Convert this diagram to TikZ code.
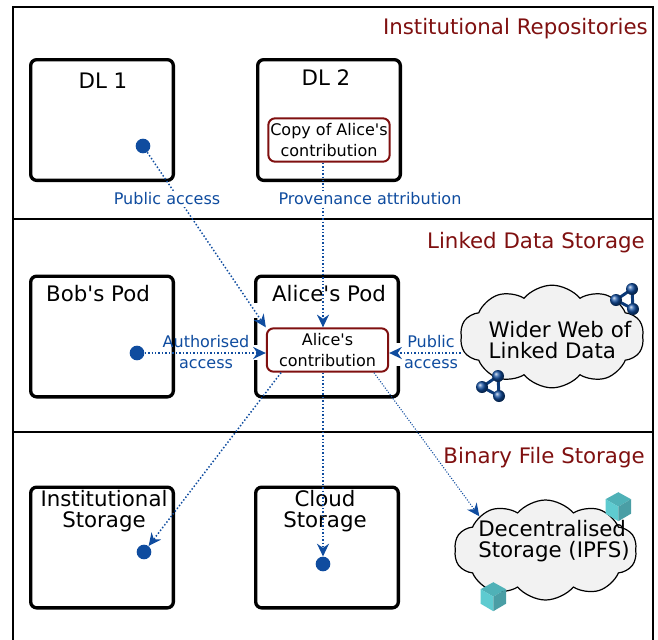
\documentclass[tikz,border=0pt]{standalone}
\usepackage{fontspec}
\setmainfont{DejaVu Sans}
\usetikzlibrary{arrows.meta,shapes.symbols}
\definecolor{linkblue}{HTML}{0F4C9F}
\definecolor{darkred}{HTML}{7F1010}
\definecolor{cloudgrey}{HTML}{F2F2F2}
\definecolor{cubetop}{HTML}{4FB1B7}
\definecolor{cubeleft}{HTML}{5ECBD0}
\definecolor{cuberight}{HTML}{4A9EA5}
\tikzset{
  frameline/.style={line width=1.5pt},
  podbox/.style={draw, line width=2.5pt, rounded corners=4.5pt, minimum width=107pt, minimum height=90.5pt},
  bigtext/.style={font=\fontsize{16}{16}\selectfont, align=center, inner sep=0pt},
  layertitle/.style={font=\fontsize{16}{19}\selectfont, text=darkred, anchor=east, inner sep=0pt},
  itembox/.style={draw=darkred, fill=white, line width=1.5pt, rounded corners=5pt, minimum width=91pt, minimum height=32.5pt,
    inner sep=0pt, align=center, font=\fontsize{12}{16.3}\selectfont},
  dot/.style={circle, fill=linkblue, minimum size=11pt, inner sep=0pt},
  link/.style={-{Stealth[length=9.5pt,width=9pt]}, linkblue, dash pattern=on 1.1pt off 1.5pt, line width=1.1pt},
  thinlink/.style={link, line width=.8pt, dash pattern=on .8pt off 1.2pt},
  linklabel/.style={fill=white, text=linkblue, align=center, inner sep=1pt, font=\fontsize{12}{16}\selectfont},
  wolke/.style={cloud, cloud puffs=10, cloud puff arc=100, draw, fill=cloudgrey, line width=.9pt, cloud ignores aspect, inner sep=0pt},
  gap/.style={white, line width=4.5pt},
  webicon/.pic={
    \draw [linkblue!75!black, line width=2.2pt] (8,-11) -- (-8,0) -- (9,9) -- cycle;
    \shade [ball color=linkblue] (8,-11) circle [radius=6];
    \shade [ball color=linkblue] (-8,0) circle [radius=6];
    \shade [ball color=linkblue] (9,9) circle [radius=6];
  },
  cubeicon/.pic={
    \fill [cubetop] (0,0) -- (-12.7,-7.5) -- (0,-14.5) -- (12.7,-7.5) -- cycle;
    \fill [cubeleft] (0,0) -- (-12.7,-7.5) -- (-12.7,7) -- (0,14.5) -- cycle;
    \fill [cuberight] (0,0) -- (12.7,-7.5) -- (12.7,7) -- (0,14.5) -- cycle;
  },
}
\begin{document}
\begin{tikzpicture}[x=.75pt, y=-.75pt]
  \useasboundingbox (0,0) rectangle (658,640);
  % layers
  \draw [frameline] (13,640) -- (13,7) -- (653,7) -- (653,640);
  \draw [frameline] (13,219) -- (653,219);
  \draw [frameline] (13,432) -- (653,432);
  \node (repotitle) [layertitle] at (648,29) {Institutional Repositories};
  \node (linkedtitle) [layertitle] at (645,243) {Linked Data Storage};
  \node (binarytitle) [layertitle] at (645,458) {Binary File Storage};
  % boxes
  \node (dla) [podbox] at (102,120) {};
  \node (dlb) [podbox] at (329,120) {};
  \node (bobpod) [podbox] at (102,336.5) {};
  \node (alicepod) [podbox] at (327,336.5) {};
  \node (inststore) [podbox] at (102,547.5) {};
  \node (cloudstore) [podbox] at (327,547.5) {};
  \node (dlatext) [bigtext] at (103,81) {DL 1};
  \node (dlbtext) [bigtext] at (326,78) {DL 2};
  \node (bobtext) [bigtext] at (98,294) {Bob\textquotesingle s Pod};
  \node (alicetext) [bigtext] at (329,294) {Alice\textquotesingle s Pod};
  \node (insttext) [bigtext] at (104,511) {Institutional\\Storage};
  \node (cloudtext) [bigtext] at (325,511) {Cloud\\Storage};
  % clouds
  \node (webcloud) [wolke, minimum width=138pt, minimum height=77pt] at (552,336.5) {};
  \node (webtext) [bigtext, align=left] at (560,340) {Wider Web of\\Linked Data};
  \node (deccloud) [wolke, minimum width=137pt, minimum height=75pt] at (545.5,550) {};
  \node (dectext) [bigtext, align=left] at (554,541) {Decentralised\\Storage (IPFS)};
  \pic at (624,300) {webicon};
  \pic at (490,387) {webicon};
  \pic at (618.3,506.7) {cubeicon};
  \pic at (493.3,596.7) {cubeicon};
  % items
  \node (copyitem) [itembox] at (329,140) {Copy of Alice\textquotesingle s\\contribution};
  \node (contrib) [itembox] at (327.5,350) {Alice\textquotesingle s\\contribution};
  \node (dladot) [dot] at (143,146) {};
  \node (bobdot) [dot] at (137,353) {};
  \node (instdot) [dot] at (144,552) {};
  \node (clouddot) [dot] at (323,564) {};
  % gaps in the pod
  \draw [gap] (255,303) -- (255,318);
  \draw [gap] (255,345) -- (255,360);
  \draw [gap] (399,343) -- (399,366);
  % links
  \draw [link] (dladot) -- (contrib.north west);
  \draw [link] (clouddot |- copyitem.south) -- (clouddot |- contrib.north);
  \draw [link] (bobdot) -- (bobdot -| contrib.west);
  \draw [link] (bobdot -| webcloud.west) -- (bobdot -| contrib.east);
  \draw [link] (contrib.206) -- (instdot);
  \draw [link] (clouddot |- contrib.south) -- (clouddot);
  \draw [thinlink] (contrib.334) -- (deccloud.153);
  % labels
  \node (publabel) [linklabel] at (167,199) {Public access};
  \node (provlabel) [linklabel] at (370,199) {Provenance attribution};
  \node (authlabel) [linklabel, fill=none] at (206,352) {Authorised\\access};
  \node (pubblabel) [linklabel, fill=none] at (431,352) {Public\\access};
\end{tikzpicture}
\end{document}
